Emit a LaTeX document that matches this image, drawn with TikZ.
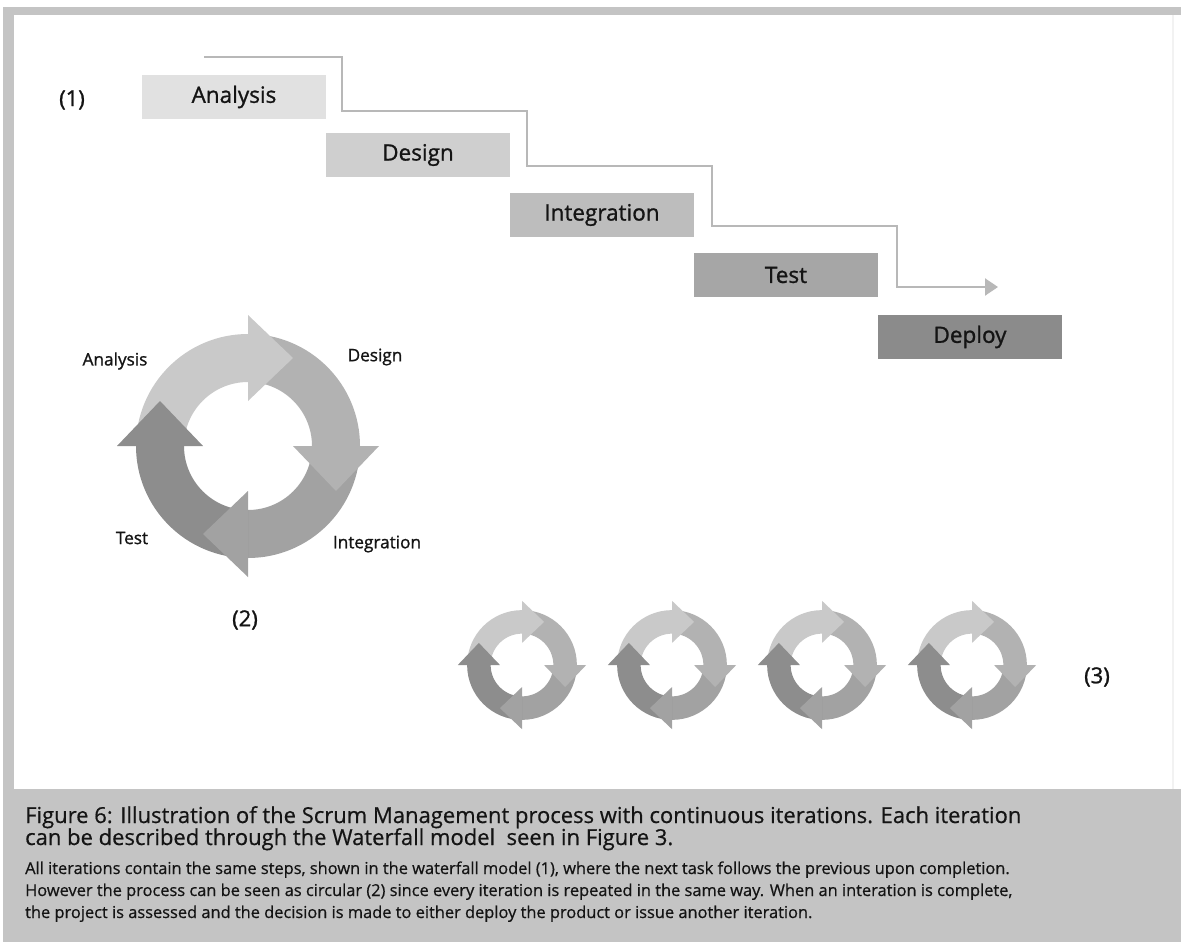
\documentclass[tikz,border=0pt]{standalone}
\usepackage{fontspec}
\setmainfont{Open Sans}
\newfontfamily\heavyfont{Open Sans}[FakeBold=1.1]
\newfontfamily\midfont{Open Sans}[FakeBold=0.6]
\usetikzlibrary{calc,arrows.meta}

\definecolor{framegray}{HTML}{C4C4C4}
\definecolor{ink}{HTML}{141414}
\definecolor{flowgray}{HTML}{B8B8B8}
% waterfall stages, lightest first
\definecolor{wA}{HTML}{E1E1E1}
\definecolor{wD}{HTML}{CFCFCF}
\definecolor{wI}{HTML}{BDBDBD}
\definecolor{wT}{HTML}{A6A6A6}
\definecolor{wP}{HTML}{8B8B8B}
% wheel segments
\definecolor{cA}{HTML}{C9C9C9}
\definecolor{cD}{HTML}{B2B2B2}
\definecolor{cI}{HTML}{A2A2A2}
\definecolor{cT}{HTML}{8D8D8D}

\tikzset{
  stagebox/.style={minimum width=184pt, minimum height=44pt, inner sep=0pt,
    text=ink, font=\heavyfont\fontsize{22.5}{24}\selectfont},
  flow/.style={draw=flowgray, line width=2pt,
    -{Triangle[length=13pt,width=17pt]}},
  wheellabel/.style={text=ink, font=\heavyfont\fontsize{17.2}{18}\selectfont},
  marker/.style={text=ink, font=\heavyfont\fontsize{22}{24}\selectfont},
  captitle/.style={anchor=base west, inner sep=0pt, text=ink,
    font=\midfont\fontsize{22}{24}\selectfont},
  capbody/.style={anchor=base west, inner sep=0pt, text=ink,
    font=\midfont\fontsize{16.4}{18}\selectfont},
  % four quarter-ring arrows chasing each other clockwise
  iterwheel/.pic={
    \foreach \s/\col in {-180/cA,-90/cD,0/cI,90/cT}{
      \fill[\col] (\s:112) arc[start angle=\s, end angle=\s+90, radius=112]
        -- (\s+90:64) arc[start angle=\s+90, end angle=\s, radius=64] -- cycle;
    }
    \foreach \s/\col in {-180/cA,-90/cD,0/cI,90/cT}{
      \pgfmathsetmacro{\b}{\s+90}
      \fill[\col] (\b:45) -- (\b:131) -- ($(\b:88)+(\b+90:45)$) -- cycle;
    }
  }
}

\begin{document}
\begin{tikzpicture}[x=1pt,y=-1pt]
\useasboundingbox (0,0) rectangle (1181,942);
\fill[white] (0,0) rectangle (1181,942);
% frame and caption panel
\fill[framegray] (3,7) rectangle (1181,942);
\fill[white] (14,15) rectangle (1181,789);
\draw[black!5, line width=1.5pt] (1173,15) -- (1173,789);

% ---- (1) waterfall model ----
\node[marker] (m1) at (72,100) {(1)};
\node[stagebox, fill=wA] (an) at (234,97)  {Analysis};
\node[stagebox, fill=wD] (de) at (418,155) {Design};
\node[stagebox, fill=wI] (in) at (602,215) {Integration};
\node[stagebox, fill=wT] (te) at (786,275) {Test};
\node[stagebox, fill=wP] (dp) at (970,337) {Deploy};

\coordinate (w0) at (204,57);
\coordinate (k1) at (342,111);
\coordinate (k2) at (527,166);
\coordinate (k3) at (712,226);
\coordinate (k4) at (897,287);
\coordinate (w5) at (998,287);
\draw[flow] (w0) -| (k1) -| (k2) -| (k3) -| (k4) -- (w5);

% ---- (2) circular process ----
\pic at (248,446) {iterwheel};
\node[wheellabel] (la) at (115,361) {Analysis};
\node[wheellabel] (ld) at (375,357) {Design};
\node[wheellabel] (lt) at (132,538) {Test};
\node[wheellabel] (li) at (377,544) {Integration};
\node[marker] (m2) at (245,620) {(2)};

% ---- (3) repeated iterations ----
\foreach \cx in {522,672,822,972}{
  \pic[scale=0.49] at (\cx,665) {iterwheel};
}
\node[marker] (m3) at (1097,677) {(3)};

% ---- caption ----
\node[captitle] (t1) at (25,823) {Figure 6: Illustration of the Scrum Management process with continuous iterations. Each iteration};
\node[captitle] (t2) at (25,845) {can be described through the Waterfall model\ \ seen in Figure 3.};
\node[capbody] (b1) at (25,874) {All iterations contain the same steps, shown in the waterfall model (1), where the next task follows the previous upon completion.};
\node[capbody] (b2) at (25,896) {However the process can be seen as circular (2) since every iteration is repeated in the same way. When an interation is complete,};
\node[capbody] (b3) at (25,918) {the project is assessed and the decision is made to either deploy the product or issue another iteration.};
\end{tikzpicture}
\end{document}
